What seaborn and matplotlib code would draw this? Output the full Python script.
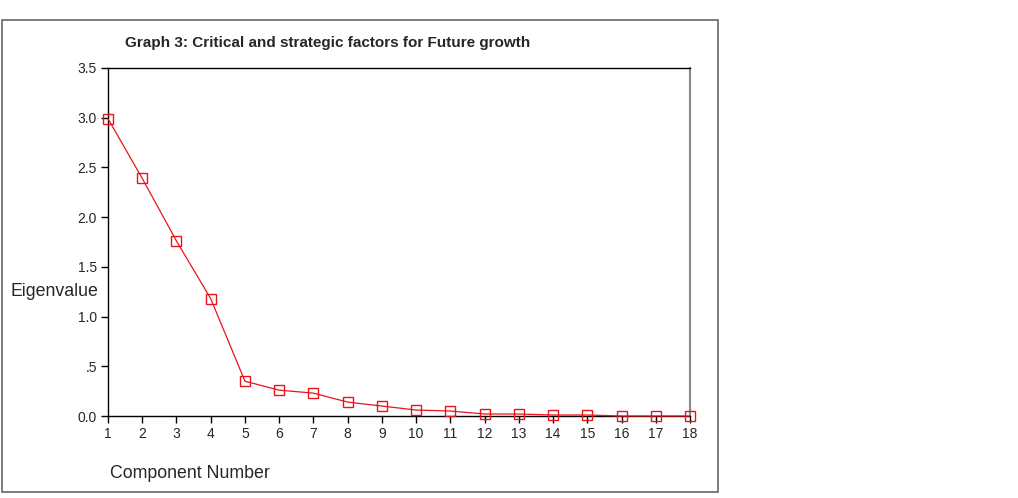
import matplotlib
matplotlib.use("Agg")
import matplotlib.pyplot as plt
import seaborn as sns
import pandas as pd
from matplotlib.patches import Rectangle

components = list(range(1, 19))
eigenvalues = [2.99, 2.39, 1.76, 1.18, 0.35, 0.26, 0.23, 0.14, 0.10, 0.06,
               0.05, 0.02, 0.02, 0.01, 0.01, 0.0, 0.0, 0.0]
ytick_vals = [0.0, 0.5, 1.0, 1.5, 2.0, 2.5, 3.0, 3.5]
ytick_labels = ["0.0", ".5", "1.0", "1.5", "2.0", "2.5", "3.0", "3.5"]

sns.set_theme(style="white")
plt.rcParams['font.family'] = ['Liberation Sans', 'DejaVu Sans']

df = pd.DataFrame({"Component": components, "Eigenvalue": eigenvalues})

fig = plt.figure(figsize=(10.18, 4.98), dpi=100)
fig.patch.set_facecolor("white")
ax = fig.add_axes([108/1018, 1-416/498, (690-108)/1018, (416-68)/498])

red = "#e8141c"
sns.lineplot(data=df, x="Component", y="Eigenvalue", ax=ax, color=red,
             linewidth=0.9, marker="s", markersize=7.5, clip_on=False)
for ln in ax.lines:
    ln.set_markerfacecolor("none")
    ln.set_markeredgecolor(red)
    ln.set_markeredgewidth(1.0)
    ln.set_zorder(5)

ax.set_xlim(1, 18)
ax.set_ylim(0, 3.5)
ax.set_xticks(components)
ax.set_xticklabels([str(c) for c in components], fontsize=10)
ax.set_yticks(ytick_vals)
ax.set_yticklabels(ytick_labels, fontsize=10)
ax.tick_params(axis="both", direction="out", length=5, width=1, color="black",
               left=True, bottom=True, pad=3)
ax.set_xlabel("")
ax.set_ylabel("")
for side in ["left", "bottom", "top"]:
    ax.spines[side].set_color("black")
    ax.spines[side].set_linewidth(1.0)
ax.spines["right"].set_color("#888888")
ax.spines["right"].set_linewidth(1.5)

fig.text(125/1018, 1-43/498, "Graph 3: Critical and strategic factors for Future growth",
         fontsize=11, fontweight="heavy", ha="left", va="center")
fig.text(10/1018, 1-291/498, "Eigenvalue", fontsize=12.8, ha="left", va="center")
fig.text(110/1018, 1-473/498, "Component Number", fontsize=12.8, ha="left", va="center")

frame = Rectangle((2/1018, 1-492/498), 716/1018, 472/498, transform=fig.transFigure,
                  fill=False, edgecolor="#666666", linewidth=1.2)
fig.patches.append(frame)

fig.savefig("out.png", dpi=100)
